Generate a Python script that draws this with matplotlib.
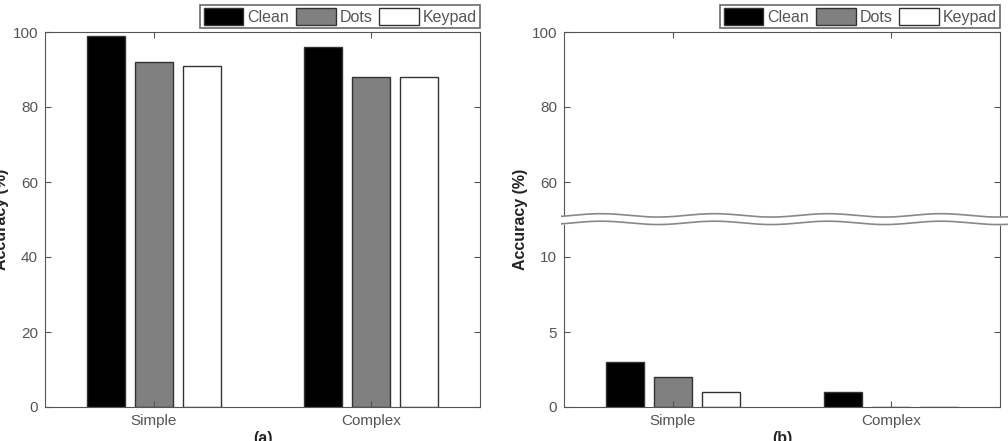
import numpy as np
import matplotlib
matplotlib.use("Agg")
import matplotlib.pyplot as plt

# Accuracy values
categories = ["Simple", "Complex"]
series = ["Clean", "Dots", "Keypad"]
acc_a = {"Clean": [99, 96], "Dots": [92, 88], "Keypad": [91, 88]}
acc_b = {"Clean": [3, 1], "Dots": [2, 0], "Keypad": [1, 0]}
ticks_a = [0, 20, 40, 60, 80, 100]
ticks_b = [0, 5, 10, 60, 80, 100]

colors = {"Clean": "black", "Dots": "#808080", "Keypad": "white"}
offsets = [-0.22, 0.0, 0.22]
bar_w = 0.175
text_col = "#555555"
spine_col = "#555555"

plt.rcParams["font.family"] = ["Liberation Sans", "DejaVu Sans"]
plt.rcParams["font.size"] = 11

fig = plt.figure(figsize=(10.08, 4.41), dpi=100)
ax_a = fig.add_axes([45 / 1008, 34 / 441, 435 / 1008, 375 / 441])
ax_b = fig.add_axes([564 / 1008, 34 / 441, 436 / 1008, 375 / 441])

# broken axis for panel (b): 0-12.5 stretched 4x, above 50 unchanged
knots_in = [-100, 0, 12.45, 50, 200]
knots_out = [-400, 0, 49.8, 50, 200]


def fwd(v):
    return np.interp(v, knots_in, knots_out)


def inv(v):
    return np.interp(v, knots_out, knots_in)


ax_b.set_yscale("function", functions=(fwd, inv))


def draw_panel(ax, data, yticks, label):
    x = np.arange(1, len(categories) + 1)
    for off, name in zip(offsets, series):
        ax.bar(x + off, data[name], width=bar_w, color=colors[name],
               edgecolor="#333333", linewidth=1, label=name)
    ax.set_xlim(0.5, 2.5)
    ax.set_ylim(0, 100)
    ax.set_xticks(x)
    ax.set_xticklabels(categories)
    ax.set_yticks(yticks)
    ax.set_yticklabels([str(t) for t in yticks])
    ax.tick_params(direction="in", length=4, colors=spine_col, labelcolor=text_col,
                   top=True, right=True, pad=5, labelsize=11)
    for sp in ax.spines.values():
        sp.set_color(spine_col)
    ax.set_ylabel("Accuracy (%)", fontweight="bold", fontsize=11.5, color="#222222")
    ax.yaxis.set_label_coords(-0.083, 0.5)
    leg = ax.legend(ncol=3, loc="lower right", bbox_to_anchor=(1.0, 1.01),
                    borderaxespad=0, frameon=True, fancybox=False,
                    handlelength=2.5, handleheight=1.25, handletextpad=0.25,
                    columnspacing=0.4, borderpad=0.2, fontsize=11.5)
    leg.get_frame().set_edgecolor("#444444")
    leg.get_frame().set_linewidth(1.2)
    for t in leg.get_texts():
        t.set_color(text_col)
    pos = ax.get_position()
    fig.text(pos.x0 + pos.width / 2, 10 / 441, label, ha="center", va="top",
             fontweight="bold", fontsize=11.5, color="#222222")


draw_panel(ax_a, acc_a, ticks_a, "(a)")
draw_panel(ax_b, acc_b, ticks_b, "(b)")

# wavy break marks on panel (b)
xs = np.linspace(-0.005, 1.02, 400)
wave = 0.0045 * np.sin(2 * np.pi * (xs - 0.02) / 0.26)
y_up = 0.511 + wave
y_lo = 0.491 + wave
ax_b.fill_between(xs, y_lo, y_up, color="white", transform=ax_b.transAxes,
                  clip_on=False, zorder=5)
ax_b.plot(xs, y_up, color="#888888", lw=1.2, transform=ax_b.transAxes,
          clip_on=False, zorder=6)
ax_b.plot(xs, y_lo, color="#888888", lw=1.2, transform=ax_b.transAxes,
          clip_on=False, zorder=6)

fig.savefig("out.png", dpi=100)
